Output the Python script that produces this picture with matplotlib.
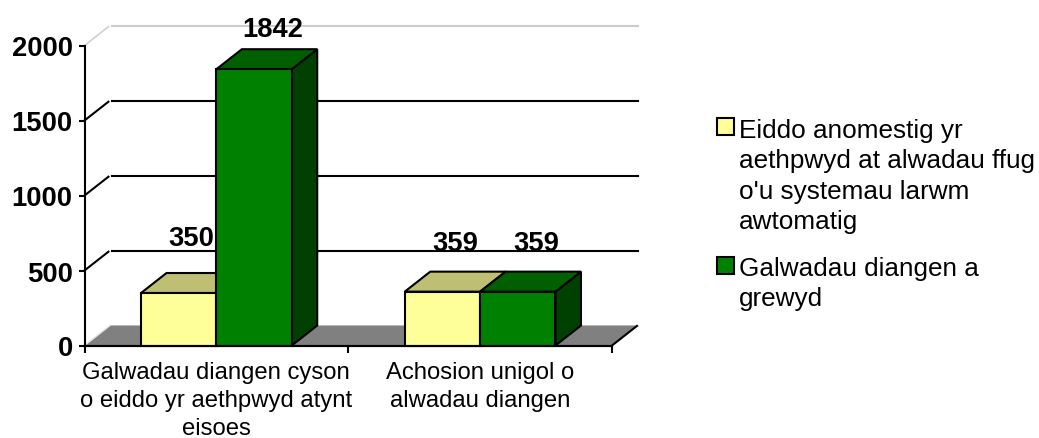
import matplotlib
matplotlib.use("Agg")
import matplotlib.pyplot as plt
from matplotlib.patches import Polygon, Rectangle

plt.rcParams['font.family'] = ['Liberation Sans', 'DejaVu Sans']

categories = ["Galwadau diangen cyson\no eiddo yr aethpwyd atynt\neisoes",
              "Achosion unigol o\nalwadau diangen"]
series_names = ["Eiddo anomestig yr\naethpwyd at alwadau ffug\no'u systemau larwm\nawtomatig",
                "Galwadau diangen a\ngrewyd"]
series_a = [350, 359]
series_b = [1842, 359]
y_ticks = [0, 500, 1000, 1500, 2000]

W, H = 1039, 439
fig = plt.figure(figsize=(W / 100, H / 100), dpi=100, facecolor='white')
ax = fig.add_axes([84.5 / W, 1 - 346.5 / H, 527.5 / W, 300 / H])
ax.set_xlim(0, 2)
ax.set_ylim(0, 2000)
ax.patch.set_visible(False)

DX = 25.5 / 263.75   # depth in category units
DY = 20 / 0.15       # depth in value units
BAR_W = 1 / 3.5
LW = 1.5

# floor
ax.add_patch(Polygon([(0, 0), (2, 0), (2 + DX, DY), (DX, DY)], closed=True,
                     fc='#808080', ec='none', zorder=1, clip_on=False))
ax.plot([0, DX], [0, DY], color='#e6e6e6', lw=1, zorder=1.5, clip_on=False)
ax.plot([0, 2], [0, 0], color='black', lw=LW, zorder=1.6, clip_on=False)
ax.plot([2, 2 + DX * 0.98], [0, DY * 0.98], color='black', lw=LW, zorder=1.6, clip_on=False)

# gridlines on the walls
for v in y_ticks:
    if v == 0:
        ax.plot([DX, 2 + DX], [DY, DY], color='#dddddd', lw=1, zorder=0.9, clip_on=False)
    elif v == 2000:
        ax.plot([0, DX * 0.94], [v, v + DY * 0.94], color='#d0d0d0', lw=1.2, zorder=1, clip_on=False)
        ax.plot([DX * 1.06, 2 + DX], [v + DY, v + DY], color='#cccccc', lw=1.5, zorder=1, clip_on=False)
    else:
        ax.plot([0, DX * 0.94], [v, v + DY * 0.94], color='black', lw=LW, zorder=1, clip_on=False)
        ax.plot([DX * 1.06, 2 + DX], [v + DY, v + DY], color='black', lw=LW, zorder=1, clip_on=False)


def bar3d(x, v, front, top, side, z):
    kw = dict(closed=True, ec='black', lw=LW, joinstyle='miter', clip_on=False, zorder=z)
    ax.add_patch(Polygon([(x + BAR_W, 0), (x + BAR_W + DX, DY), (x + BAR_W + DX, v + DY), (x + BAR_W, v)],
                         fc=side, **kw))
    ax.add_patch(Polygon([(x, v), (x + BAR_W, v), (x + BAR_W + DX, v + DY), (x + DX, v + DY)],
                         fc=top, **kw))
    ax.add_patch(Polygon([(x, 0), (x + BAR_W, 0), (x + BAR_W, v), (x, v)], fc=front, **kw))


label_dx = [12.7, 19, 12.7, 18]
label_dy = [47.5, 33, 41.5, 41.5]
for i in range(len(categories)):
    x0 = i + 0.5 - BAR_W
    bar3d(x0, series_a[i], '#FFFF99', '#BFBF73', '#7F7F4C', 2 + i)
    bar3d(x0 + BAR_W, series_b[i], '#008000', '#006000', '#004000', 2.5 + i)
    for j, (x, v) in enumerate([(x0, series_a[i]), (x0 + BAR_W, series_b[i])]):
        k = i * 2 + j
        ax.annotate(str(v), (x + BAR_W / 2, v), xytext=(label_dx[k], label_dy[k]),
                    textcoords='offset pixels', ha='center', va='baseline',
                    fontsize=19.7, fontweight='bold', color='black',
                    zorder=10, annotation_clip=False)

# axes
for s in ('top', 'right'):
    ax.spines[s].set_visible(False)
for s in ('left', 'bottom'):
    ax.spines[s].set_linewidth(LW)
    ax.spines[s].set_zorder(9)
ax.set_yticks(y_ticks)
ax.set_yticklabels([str(v) for v in y_ticks], fontsize=19.7, fontweight='bold')
ax.tick_params(axis='y', length=4.5, width=LW, pad=4)
ax.set_xticks([0, 1, 2])
ax.set_xticklabels([])
ax.tick_params(axis='x', which='major', length=5, width=LW)
ax.set_xticks([0.5, 1.5], minor=True)
ax.set_xticklabels(categories, minor=True, fontsize=17.2, linespacing=1.36, ha='center')
ax.tick_params(axis='x', which='minor', length=0, pad=11)

# legend
leg_colors = ['#FFFF99', '#008000']
leg_sw_top = [119, 258]
leg_text_top = [119, 257]
for name, c, ytop, ttop in zip(series_names, leg_colors, leg_sw_top, leg_text_top):
    fig.add_artist(Rectangle((716.5 / W, 1 - (ytop + 17) / H), 17 / W, 17 / H,
                             transform=fig.transFigure, fc=c, ec='black', lw=LW))
    fig.text(739 / W, 1 - ttop / H, name, fontsize=18.85, ha='left', va='top',
             linespacing=1.33, color='black')

fig.savefig('out.png', dpi=100, facecolor='white')
